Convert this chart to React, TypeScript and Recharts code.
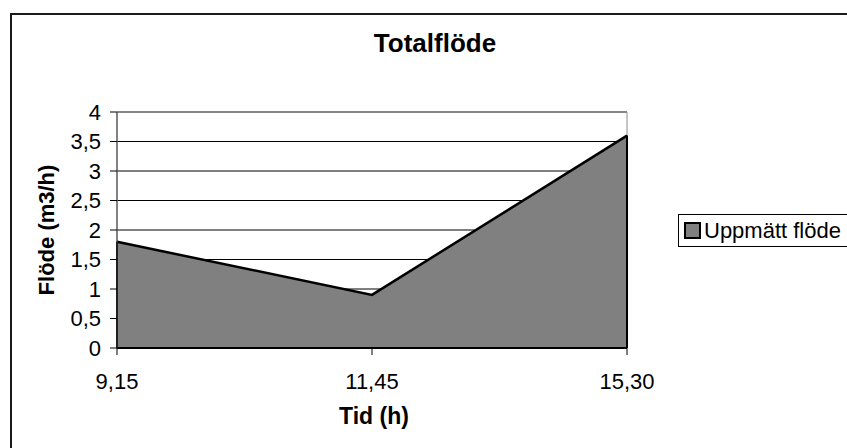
import React from 'react';
import {
  AreaChart,
  Area,
  XAxis,
  YAxis,
  CartesianGrid,
  ReferenceArea,
  ReferenceLine,
} from 'recharts';

const TIMES = ['9,15', '11,45', '15,30'];
const FLOW = [1.8, 0.9, 3.6];
const Y_TICKS = [0, 0.5, 1, 1.5, 2, 2.5, 3, 3.5, 4];

const SERIES_NAME = 'Uppmätt flöde';
const FONT = '"Liberation Sans", Arial, sans-serif';

const data = TIMES.map((time, i) => ({ time, flow: FLOW[i] }));

const fmt = (v: number) => String(v).replace('.', ',');

function LegendBox() {
  return (
    <div
      style={{
        position: 'absolute',
        left: 678,
        top: 214,
        border: '1px solid #000',
        background: '#fff',
        height: 33,
        width: 200,
        boxSizing: 'border-box',
        display: 'flex',
        alignItems: 'center',
        paddingLeft: 5,
        fontFamily: FONT,
        fontSize: 22,
        color: '#000',
        whiteSpace: 'nowrap',
      }}
    >
      <span
        style={{
          display: 'inline-block',
          width: 13,
          height: 13,
          background: '#808080',
          border: '2px solid #000',
          marginRight: 3,
        }}
      />
      <span>{SERIES_NAME}</span>
    </div>
  );
}

export default function App() {
  const first = data[0];
  const last = data[data.length - 1];
  return (
    <div style={{ position: 'absolute', left: 0, top: 0, width: 847, height: 448, background: '#fff', overflow: 'hidden' }}>
      {/* outer chart border */}
      <div
        style={{
          position: 'absolute',
          left: 10,
          top: 13,
          width: 860,
          height: 460,
          border: '2px solid #1a1a1a',
          boxSizing: 'border-box',
        }}
      />
      <AreaChart
        width={847}
        height={448}
        data={data}
        margin={{ top: 112, right: 220, bottom: 40, left: 0 }}
        style={{ fontFamily: FONT }}
      >
        <CartesianGrid horizontal vertical={false} stroke="#000" strokeWidth={1} />
        <ReferenceArea x1={first.time} x2={last.time} y1={0} y2={4} fill="none" stroke="#8c8c8c" strokeWidth={1} />
        <XAxis
          dataKey="time"
          height={60}
          axisLine={{ stroke: '#000', strokeWidth: 2 }}
          tickLine={{ stroke: '#000' }}
          tickSize={7}
          tickMargin={18}
          fontSize={22}
          tick={{ fill: '#000', fontSize: 22, fontFamily: FONT }}
          interval={0}
        />
        <YAxis
          width={117}
          domain={[0, 4]}
          ticks={Y_TICKS}
          tickFormatter={fmt}
          axisLine={{ stroke: '#404040', strokeWidth: 1 }}
          tickLine={{ stroke: '#000' }}
          tickSize={7}
          tickMargin={9}
          fontSize={22}
          tick={{ fill: '#000', fontSize: 22, fontFamily: FONT }}
          interval={0}
        />
        <Area
          type="linear"
          dataKey="flow"
          name={SERIES_NAME}
          fill="#808080"
          fillOpacity={1}
          stroke="#000"
          strokeWidth={2.5}
          dot={false}
          activeDot={false}
          isAnimationActive={false}
        />
        <ReferenceLine
          segment={[{ x: first.time, y: 0 }, { x: first.time, y: first.flow }]}
          stroke="#000"
          strokeWidth={2}
        />
        <ReferenceLine
          segment={[{ x: last.time, y: 0 }, { x: last.time, y: last.flow }]}
          stroke="#000"
          strokeWidth={2}
        />
      </AreaChart>
      <LegendBox />
      <div
        style={{
          position: 'absolute',
          left: 435 - 150,
          width: 300,
          top: 28,
          textAlign: 'center',
          fontFamily: FONT,
          fontWeight: 'bold',
          fontSize: 26,
          color: '#000',
        }}
      >
        Totalflöde
      </div>
      <div
        style={{
          position: 'absolute',
          left: 374 - 100,
          width: 200,
          top: 403,
          textAlign: 'center',
          fontFamily: FONT,
          fontWeight: 'bold',
          fontSize: 23,
          color: '#000',
        }}
      >
        Tid (h)
      </div>
      <div
        style={{
          position: 'absolute',
          left: 47 - 100,
          top: 230 - 14,
          width: 200,
          height: 28,
          lineHeight: '28px',
          textAlign: 'center',
          transform: 'rotate(-90deg)',
          fontFamily: FONT,
          fontWeight: 'bold',
          fontSize: 22,
          color: '#000',
        }}
      >
        Flöde (m3/h)
      </div>
    </div>
  );
}
